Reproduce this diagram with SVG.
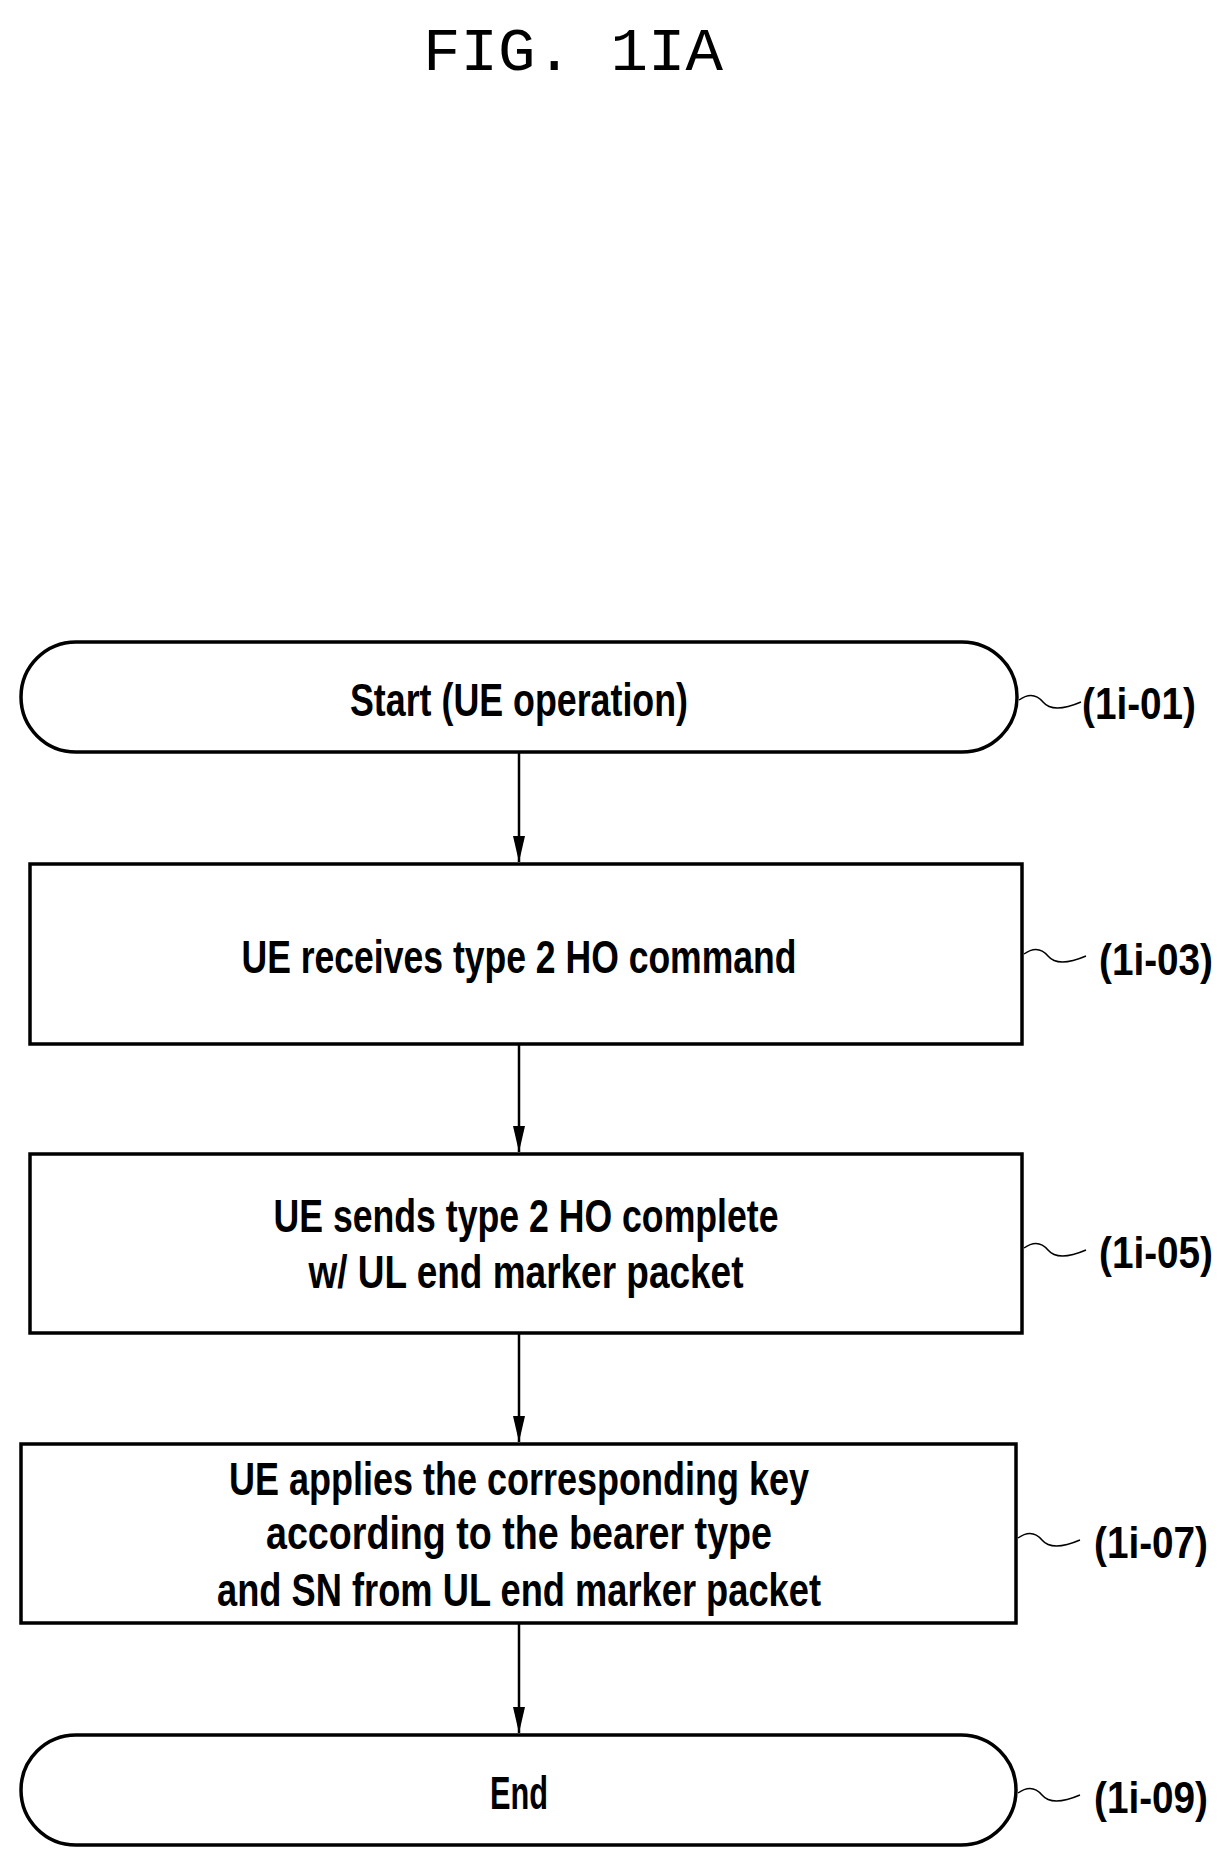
<svg xmlns="http://www.w3.org/2000/svg" width="1230" height="1863" viewBox="0 0 1230 1863">
<style>
.s{fill:#fff;stroke:#000;stroke-width:3.5}
.t{font-family:"Liberation Sans",Arial,sans-serif;font-size:46px;font-weight:bold;text-anchor:middle;fill:#000}
.l{font-family:"Liberation Sans",Arial,sans-serif;font-size:44px;font-weight:bold;fill:#000}
.w{fill:none;stroke:#000;stroke-width:1.5}
.c{stroke:#000;stroke-width:2.5;fill:none}
</style>
<defs>
<marker id="b" markerWidth="26" markerHeight="12" refX="26" refY="6" orient="auto" markerUnits="userSpaceOnUse" viewBox="0 0 26 12"><path d="M0,0 L26,6 L0,12 Z"/></marker></defs>
<text x="573" y="70" font-family="Liberation Mono,monospace" font-size="62" text-anchor="middle" textLength="300" lengthAdjust="spacingAndGlyphs">FIG. 1IA</text>
<g id="connectors">
<line class="c" x1="519" y1="752" x2="519" y2="862" marker-end="url(#b)"/>
<line class="c" x1="519" y1="1045" x2="519" y2="1152" marker-end="url(#b)"/>
<line class="c" x1="519" y1="1333" x2="519" y2="1442" marker-end="url(#b)"/>
<line class="c" x1="519" y1="1623" x2="519" y2="1733" marker-end="url(#b)"/>
</g>
<g id="n1"><rect class="s" x="21" y="642" width="996" height="110" rx="55"/>
<text class="t" x="519" y="716" textLength="338" lengthAdjust="spacingAndGlyphs">Start (UE operation)</text>
<path class="w" d="M1019,700 q14,-10 24,2 t38,0"/><text class="l" x="1082" y="719" textLength="114" lengthAdjust="spacingAndGlyphs">(1i-01)</text></g>
<g id="n2"><rect class="s" x="30" y="864" width="992" height="180"/>
<text class="t" x="519" y="973" textLength="555" lengthAdjust="spacingAndGlyphs">UE receives type 2 HO command</text>
<path class="w" d="M1024,954 q14,-10 24,2 t38,0"/><text class="l" x="1099" y="975" textLength="114" lengthAdjust="spacingAndGlyphs">(1i-03)</text></g>
<g id="n3"><rect class="s" x="30" y="1154" width="992" height="179"/>
<text class="t" x="526" y="1232" textLength="505" lengthAdjust="spacingAndGlyphs">UE sends type 2 HO complete</text>
<text class="t" x="526" y="1288" textLength="435" lengthAdjust="spacingAndGlyphs">w/ UL end marker packet</text>
<path class="w" d="M1024,1248 q14,-10 24,2 t38,0"/><text class="l" x="1099" y="1268" textLength="114" lengthAdjust="spacingAndGlyphs">(1i-05)</text></g>
<g id="n4"><rect class="s" x="21" y="1444" width="995" height="179"/>
<text class="t" x="519" y="1495" textLength="580" lengthAdjust="spacingAndGlyphs">UE applies the corresponding key</text>
<text class="t" x="519" y="1549" textLength="506" lengthAdjust="spacingAndGlyphs">according to the bearer type</text>
<text class="t" x="519" y="1606" textLength="604" lengthAdjust="spacingAndGlyphs">and SN from UL end marker packet</text>
<path class="w" d="M1018,1538 q14,-10 24,2 t38,0"/><text class="l" x="1094" y="1558" textLength="114" lengthAdjust="spacingAndGlyphs">(1i-07)</text></g>
<g id="n5"><rect class="s" x="21" y="1735" width="995" height="110" rx="55"/>
<text class="t" x="519" y="1809" textLength="58" lengthAdjust="spacingAndGlyphs">End</text>
<path class="w" d="M1018,1793 q14,-10 24,2 t38,0"/><text class="l" x="1094" y="1813" textLength="114" lengthAdjust="spacingAndGlyphs">(1i-09)</text></g>
</svg>
